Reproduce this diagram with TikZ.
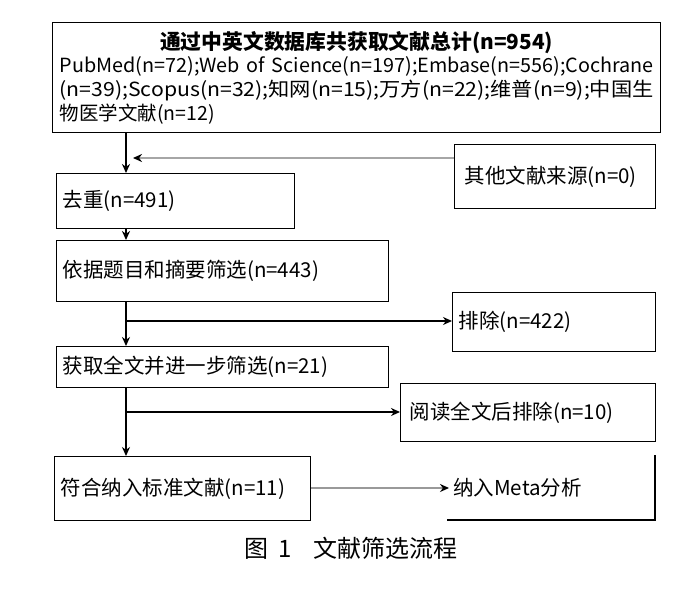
\documentclass[tikz,border=0pt]{standalone}
\usepackage{fontspec}
\usepackage{graphicx}
\setmainfont{Noto Sans CJK SC}
\usetikzlibrary{arrows.meta}
\tikzset{
  box/.style={draw=black, line width=1.3pt, anchor=north west, inner xsep=6pt, inner ysep=4pt, align=left, font=\fontsize{20.5}{24}\selectfont},
  trunk/.style={line width=2pt, -{Stealth[length=9pt,width=8pt]}},
  branch/.style={line width=1.5pt, -{Stealth[length=9pt,width=8pt]}},
  grayarrow/.style={draw=black!35, line width=1.6pt, -{Stealth[length=9pt,width=8pt,color=black]}},
}
\begin{document}
\begin{tikzpicture}[x=1pt,y=-1pt]
\useasboundingbox (0,0) rectangle (700,591);
% boxes
\node[box, font=\fontsize{19.5}{23.6}\selectfont, minimum width=608pt, minimum height=110pt, text width=594pt, inner xsep=7pt, inner ysep=5pt] (top) at (52,22)
 {\makebox[\linewidth][c]{\fontsize{20.8}{24}\selectfont\bfseries 通过中英文数据库共获取文献总计(n=954)}\\
  \resizebox{\linewidth}{\height}{PubMed(n=72);Web of Science(n=197);Embase(n=556);Cochrane}\\
  \resizebox{\linewidth}{\height}{(n=39);Scopus(n=32);知网(n=15);万方(n=22);维普(n=9);中国生}\\
  物医学文献(n=12)};
\node[box, minimum width=201pt, minimum height=64pt, text width=181pt, inner xsep=10pt] (other) at (454,144) {其他文献来源(n=0)};
\node[box, minimum width=238pt, minimum height=55pt, text width=226pt] (dedup) at (56,173) {去重(n=491)};
\node[box, minimum width=332pt, minimum height=61pt, text width=320pt] (screen) at (56,240) {依据题目和摘要筛选(n=443)};
\node[box, minimum width=203pt, minimum height=59pt, text width=191pt] (ex1) at (452,292) {排除(n=422)};
\node[box, minimum width=332pt, minimum height=41pt, text width=320pt] (full) at (56,346) {获取全文并进一步筛选(n=21)};
\node[box, minimum width=255pt, minimum height=58pt, text width=237pt, inner xsep=9pt] (ex2) at (400,383) {阅读全文后排除(n=10)};
\node[box, minimum width=256pt, minimum height=64pt, text width=244pt] (inc) at (54,456) {符合纳入标准文献(n=11)};
\node[anchor=west, font=\fontsize{20.5}{24}\selectfont, inner sep=4pt] (meta) at (449,488) {纳入Meta分析};
\coordinate (mtr) at (655,455);
\coordinate (mbr) at (655,520);
\coordinate (mbl) at (447,520);
\draw[line width=1.3pt] (mtr) -- (mbr) -- (mbl);
% trunk coordinate
\coordinate (tx) at (126,0);
\coordinate (j1) at (133,158);
\coordinate (j2) at (126,321);
\coordinate (j3) at (126,412);
\draw[trunk] (top.south -| tx) -- (dedup.north -| tx);
\draw[grayarrow] (other.west |- j1) -- (j1);
\draw[trunk] (dedup.south -| tx) -- (screen.north -| tx);
\draw[trunk] (screen.south -| tx) -- (full.north -| tx);
\draw[branch] (j2) -- (ex1.west |- j2);
\draw[trunk] (full.south -| tx) -- (inc.north -| tx);
\draw[branch] (j3) -- (ex2.west |- j3);
\draw[grayarrow, draw=black!40] (inc.east |- meta) -- (meta.west);
% caption
\node[font=\fontsize{24}{28}\selectfont] (cap) at (351,548) {图\hspace{0.4em}1\hspace{0.9em}文献筛选流程};
\end{tikzpicture}
\end{document}
